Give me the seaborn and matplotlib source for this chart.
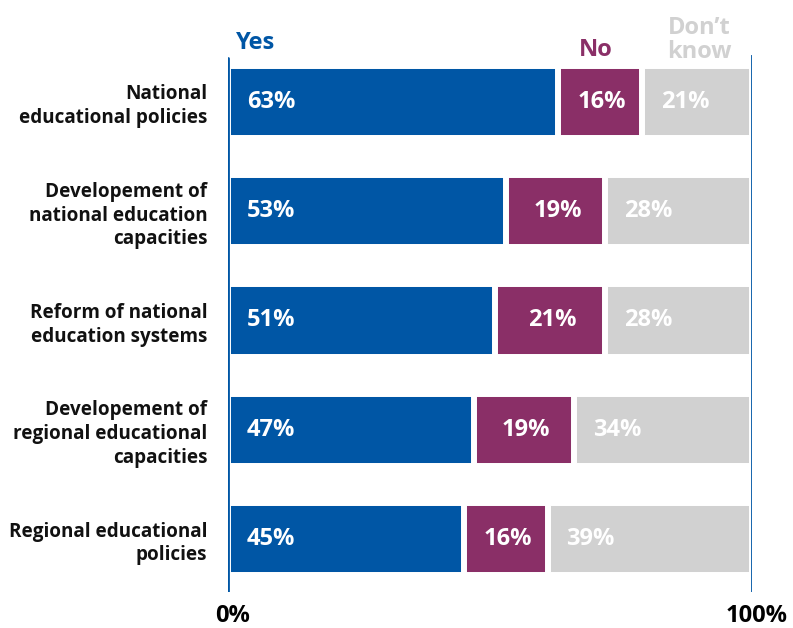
import matplotlib
matplotlib.use("Agg")
import matplotlib.pyplot as plt
import seaborn as sns
import pandas as pd

# Survey topics and answer shares (percent)
topics = [
    "National\neducational policies",
    "Developement of\nnational education\ncapacities",
    "Reform of national\neducation systems",
    "Developement of\nregional educational\ncapacities",
    "Regional educational\npolicies",
]
yes = [63, 53, 51, 47, 45]
no = [16, 19, 21, 19, 16]
dont_know = [21, 28, 28, 34, 39]

answer_labels = ["Yes", "No", "Don\u2019t\nknow"]
axis_labels = ["0%", "100%"]

BLUE = "#0056A5"
PURPLE = "#8A2F67"
GREY = "#D1D1D1"
TEXT = "#111111"

sns.set_theme(style="white")
plt.rcParams["font.family"] = ["Open Sans", "DejaVu Sans"]
plt.rcParams["font.weight"] = "bold"

df = pd.DataFrame({"topic": topics, "yes": yes, "no": no, "dk": dont_know})
df["yes_no"] = df["yes"] + df["no"]
df["total"] = df["yes_no"] + df["dk"]

fig = plt.figure(figsize=(7.93, 6.28), dpi=100)
W, H = 793, 628
ax = fig.add_axes([228 / W, 1 - 592 / H, (752 - 228) / W, (592 - 55) / H])

# Stacked segments drawn as overlapping bars; white edges open the gaps
bar_kw = dict(orient="h", width=0.66, edgecolor="white", linewidth=4.3,
              errorbar=None, ax=ax)
sns.barplot(data=df, x="total", y="topic", color=GREY, saturation=1, **bar_kw)
sns.barplot(data=df, x="yes_no", y="topic", color=PURPLE, saturation=1, **bar_kw)
sns.barplot(data=df, x="yes", y="topic", color=BLUE, saturation=1, **bar_kw)

ax.set_xlim(0, 100)
ax.set_ylim(4.485, -0.43)

# Value labels inside the segments
val_kw = dict(color="white", fontsize=17, fontweight="bold", va="center")
for i, row in df.iterrows():
    ax.text(3.6, i, f"{row['yes']}%", ha="left", **val_kw)
    ax.text(row["yes"] + row["no"] / 2 + 0.4, i, f"{row['no']}%", ha="center", **val_kw)
    ax.text(row["yes_no"] + 3.6, i, f"{row['dk']}%", ha="left", **val_kw)

# Boundary lines at 0% and 100%
for s in ["top", "bottom", "left", "right"]:
    ax.spines[s].set_visible(False)
ax.axvline(0, color=BLUE, lw=2.0, ymin=0, ymax=(592 - 58) / (592 - 55), zorder=5)
ax.axvline(100, color=BLUE, lw=2.0, ymin=0, ymax=1, zorder=5)

# Answer headers above the first bar
hdr_kw = dict(xycoords=("data", "figure pixels"), fontsize=17,
              fontweight="bold", va="baseline", annotation_clip=False)
ax.annotate(answer_labels[0], xy=(1.6, H - 49), color=BLUE, ha="left", **hdr_kw)
ax.annotate(answer_labels[1], xy=(70.2, H - 56), color=PURPLE, ha="center", **hdr_kw)
ax.annotate(answer_labels[2], xy=(90.0, H - 58), color=GREY, ha="center",
            linespacing=1.0, **hdr_kw)

# 0% / 100% markers under the boundary lines
ax.set_xticks([])
for xv, lbl, dx in [(0, axis_labels[0], 5), (100, axis_labels[1], 5)]:
    ax.annotate(lbl, xy=(xv, 0), xycoords=("data", "axes fraction"),
                xytext=(dx, -30), textcoords="offset pixels", ha="center",
                va="baseline", fontsize=17, fontweight="bold", color="black",
                annotation_clip=False)

ax.set_yticks(range(len(topics)))
ax.set_yticklabels(topics, fontsize=13.6, fontweight="bold", color=TEXT,
                   linespacing=1.25)
ax.tick_params(axis="y", length=0, pad=15)
ax.set_xlabel("")
ax.set_ylabel("")

fig.savefig("out.png", dpi=100, facecolor="white")
